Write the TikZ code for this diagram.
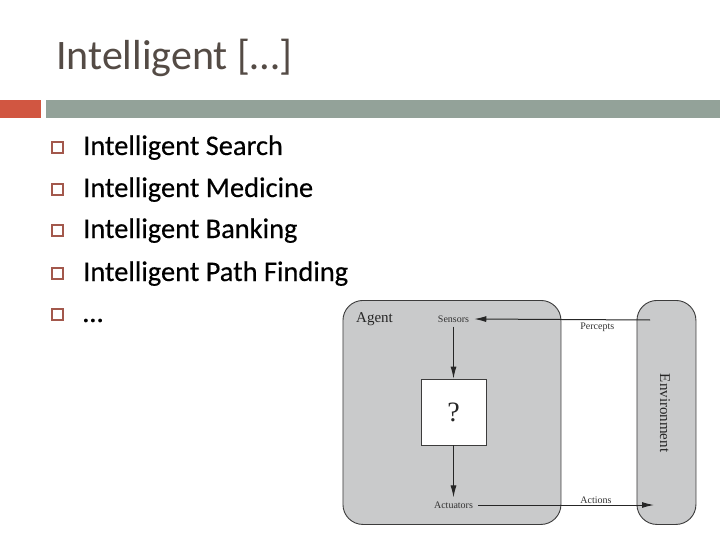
\documentclass[tikz,border=0pt]{standalone}
\usepackage{fontspec}
\setmainfont{Carlito}
\newfontfamily\diagfont{Liberation Serif}
\newfontfamily\itemfont[FakeBold=0.35]{Carlito}
\usetikzlibrary{arrows.meta}
\definecolor{titlecol}{HTML}{544B45}
\definecolor{barred}{HTML}{D15641}
\definecolor{bargray}{HTML}{93A299}
\definecolor{bulletcol}{HTML}{A3584C}
\definecolor{boxgray}{HTML}{C9CACB}
\definecolor{boxline}{HTML}{3C3C3C}
\tikzset{
  bulletsq/.style={draw=bulletcol, line width=1.6pt, minimum size=10.5pt, inner sep=0pt},
  itemtext/.style={anchor=base west, inner sep=0pt, font=\itemfont\fontsize{28.4}{30}\selectfont, text=black},
  roundbox/.style={draw=boxline, fill=boxgray, line width=0.9pt, rounded corners=20pt},
  lbl/.style={inner sep=1pt, font=\diagfont\fontsize{10}{12}\selectfont, text=black!80},
  port/.style={lbl, inner xsep=5pt, inner ysep=4pt},
  arr/.style={-{Latex[length=12pt,width=6pt]}, line width=1pt, draw=black!85},
}
\begin{document}
\begin{tikzpicture}[x=1pt,y=-1pt]
\useasboundingbox (0,0) rectangle (720,540);
\fill[white] (0,0) rectangle (720,540);
% title
\node[anchor=base west, inner sep=0pt, text=titlecol, font=\fontsize{42}{46}\selectfont] (title) at (56,70) {Intelligent [\ldots]};
% bars
\fill[barred] (0,100) rectangle (41,118);
\fill[bargray] (46,100) rectangle (720,118);
% bullets
\foreach \y/\t/\n in {155/Intelligent Search/a, 197/Intelligent Medicine/b, 238/Intelligent Banking/c, 281/Intelligent Path Finding/d, 322/\ldots/e}{
  \node[bulletsq] (b\n) at (57.5,\y-7.5) {};
  \node[itemtext] (t\n) at (83,\y) {\t};
}
% diagram
\node[roundbox, minimum width=218pt, minimum height=224pt, anchor=north west] (agent) at (342.5,300) {};
\node[roundbox, minimum width=59pt, minimum height=224pt, anchor=north west] (env) at (636.5,300) {};
\node[anchor=base west, inner sep=0pt, font=\diagfont\fontsize{15}{17}\selectfont, text=black!85] (agentlbl) at (356,322) {Agent};
\node[draw=boxline, fill=white, line width=0.8pt, minimum width=65pt, minimum height=66pt] (q) at (453.5,412) {};
\node[font=\diagfont\fontsize{28}{30}\selectfont, text=black!85] (qm) at (453.5,412) {?};
\node[port] (sensors) at (453.5,319) {Sensors};
\node[port] (actuators) at (453.5,505) {Actuators};
\node[font=\diagfont\fontsize{15}{17}\selectfont, text=black!85, rotate=-90] (envlbl) at (665,413) {Environment};
\coordinate (pstart) at (650,320);
\coordinate (aend) at (654,505);
\draw[arr] (pstart) -- (sensors.east) node[pos=0.3, below=1.5pt, lbl] (perc) {Percepts};
\draw[arr] (sensors.south) -- (q.north);
\draw[arr] (q.south) -- (actuators.north);
\draw[arr] (actuators.east) -- (aend) node[pos=0.67, above=0pt, lbl] (act) {Actions};
\end{tikzpicture}
\end{document}
